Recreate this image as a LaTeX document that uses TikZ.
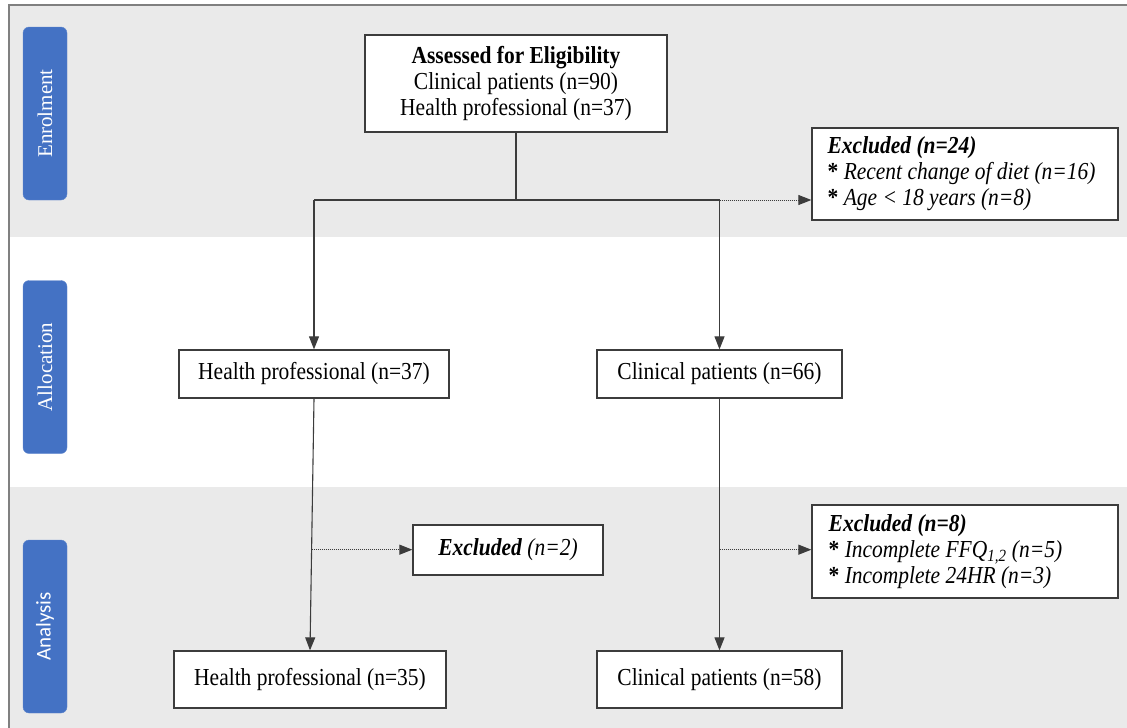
\documentclass[tikz,border=0pt]{standalone}
\usepackage{fontspec}
\setmainfont{Liberation Serif}[FakeStretch=0.88]
\newfontfamily\tabserif{Liberation Serif}
\newfontfamily\tabsans{Carlito}
\usetikzlibrary{calc}
\usetikzlibrary{arrows.meta}
\definecolor{bandgray}{RGB}{234,234,234}
\definecolor{tabblue}{RGB}{68,114,196}
\definecolor{framegray}{RGB}{128,128,128}
\definecolor{linegray}{RGB}{60,60,60}

\begin{document}
\begin{tikzpicture}[x=1pt, y=-1pt,
  box/.style={draw=linegray, line width=1.3pt, fill=white, align=center, inner sep=0pt, font=\fontsize{24.4}{26}\selectfont},
  exbox/.style={box, align=left, minimum width=306pt, minimum height=92pt},
  tab/.style={fill=tabblue, draw=tabblue!85!white, rounded corners=6pt, rotate=90, minimum width=173pt, minimum height=44pt, inner sep=0pt, text=white, font=\tabserif\fontsize{21}{24}\selectfont},
  flow/.style={draw=linegray, line width=1.1pt, -{Triangle[length=13pt,width=10pt]}},
  skip/.style={draw=linegray, line width=1pt, densely dotted, -{Triangle[length=13pt,width=10pt]}}]
\useasboundingbox (0,0) rectangle (1127,728);
\fill[bandgray] (9,5) rectangle (1127,237);
\fill[bandgray] (9,487) rectangle (1127,728);
\draw[framegray, line width=2pt] (9,728) -- (9,5) -- (1127,5);

\node[name=tabenrol, tab] at (45,113.5) {Enrolment};
\node[name=taballoc, tab] at (45,367) {Allocation};
\node[name=tabanaly, tab, font=\tabsans\fontsize{21}{24}\selectfont] at (45,626.5) {Analysis};

\node[name=assess, box, minimum width=302pt, minimum height=97pt] at (516,83.5)
  {\textbf{Assessed for Eligibility}\\Clinical patients (n=90)\\Health professional (n=37)};
\node[name=excl24, exbox] at (965,174)
  {\textbf{\textit{Excluded (n=24)}}\\\textbf{*}~\textit{Recent change of diet (n=16)}\\\textbf{*}~\textit{Age < 18 years (n=8)}\hspace*{71pt}};
\node[name=hp37, box, minimum width=270pt, minimum height=48pt] at (314,374) {Health professional (n=37)};
\node[name=cp66, box, minimum width=245pt, minimum height=48pt] at (719.5,374) {Clinical patients (n=66)};
\node[name=excl2, box, minimum width=190pt, minimum height=50pt] at (508,550) {\textbf{\textit{Excluded}} \textit{(n=2)}};
\node[name=excl8, exbox, minimum height=93pt] at (965,551.5)
  {\textbf{\textit{Excluded (n=8)}}\\\textbf{*}~\textit{Incomplete FFQ\textsubscript{1,2} (n=5)}\\\textbf{*}~\textit{Incomplete 24HR (n=3)}\hspace*{50pt}};
\node[name=hp35, box, minimum width=272pt, minimum height=57pt] at (310,679.5) {Health professional (n=35)};
\node[name=cp58, box, minimum width=245pt, minimum height=57pt] at (719.5,679.5) {Clinical patients (n=58)};

\coordinate (split) at (516,200);
\coordinate (lbr) at (314,200);
\coordinate (rbr) at (719.5,200);
\draw[draw=linegray, line width=1.1pt] (assess.south) -- (split);
\draw[draw=linegray, line width=1.1pt] (lbr) -- (rbr);
\draw[flow] (lbr) -- (hp37.north);
\draw[flow] (rbr) -- (cp66.north);
\draw[skip] (rbr) -- (rbr -| excl24.west);

\draw[flow] (hp37.south) -- (hp35.north);
\draw[flow] (cp66.south) -- (cp58.north);
\coordinate (lmid) at ($(hp37.south)!0.6!(hp35.north)$);
\coordinate (rmid) at ($(cp66.south)!0.6!(cp58.north)$);
\draw[skip] (lmid) -- (lmid -| excl2.west);
\draw[skip] (rmid) -- (rmid -| excl8.west);
\end{tikzpicture}
\end{document}
